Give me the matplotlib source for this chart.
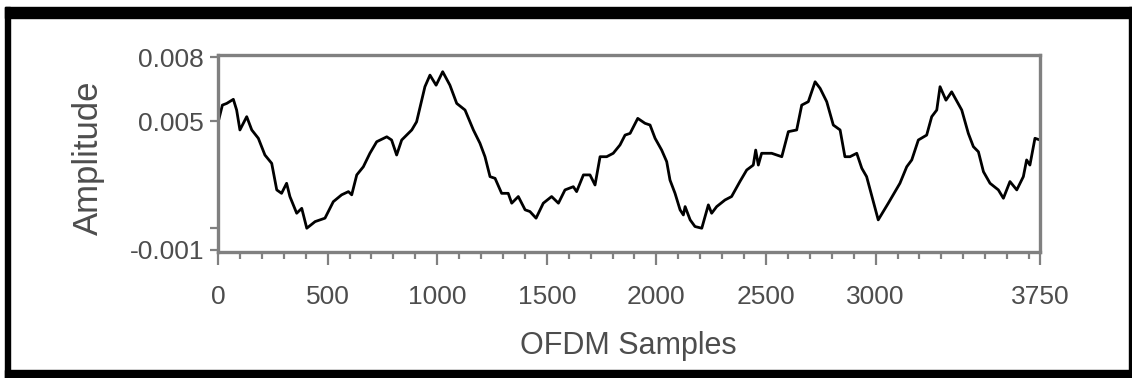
import matplotlib
matplotlib.use("Agg")
import matplotlib.pyplot as plt
from matplotlib.patches import Rectangle
from matplotlib.ticker import MultipleLocator

# values
samples = [5, 20, 40, 70, 85, 100, 131, 154, 184, 214, 245, 268, 290, 313, 328,
           359, 382, 405, 443, 488, 526, 564, 595, 610, 633, 663, 693, 724, 770,
           792, 815, 838, 884, 906, 944, 967, 995, 1025, 1058, 1089, 1127, 1165,
           1195, 1218, 1241, 1264, 1294, 1324, 1340, 1370, 1401, 1423, 1451, 1484,
           1522, 1553, 1583, 1621, 1636, 1667, 1697, 1720, 1743, 1773, 1803, 1834,
           1857, 1880, 1915, 1948, 1971, 1994, 2024, 2047, 2062, 2085, 2108, 2123,
           2131, 2154, 2176, 2207, 2237, 2252, 2275, 2313, 2343, 2381, 2412, 2442,
           2453, 2465, 2480, 2526, 2572, 2602, 2640, 2663, 2693, 2724, 2747, 2777,
           2807, 2838, 2860, 2883, 2914, 2937, 2959, 3012, 3058, 3111, 3142, 3165,
           3195, 3233, 3256, 3279, 3294, 3321, 3347, 3393, 3423, 3446, 3469, 3492,
           3522, 3560, 3583, 3613, 3644, 3674, 3689, 3704, 3727, 3750]
amplitude = [0.00514, 0.00576, 0.00584, 0.00603, 0.00553, 0.00460, 0.00522, 0.00460,
             0.00421, 0.00343, 0.00304, 0.00180, 0.00164, 0.00211, 0.00149, 0.00071,
             0.00094, 0.00001, 0.00032, 0.00048, 0.00125, 0.00157, 0.00172, 0.00157,
             0.00250, 0.00288, 0.00351, 0.00405, 0.00428, 0.00413, 0.00343, 0.00413,
             0.00460, 0.00498, 0.00662, 0.00716, 0.00669, 0.00732, 0.00669, 0.00584,
             0.00553, 0.00460, 0.00398, 0.00335, 0.00242, 0.00234, 0.00164, 0.00164,
             0.00118, 0.00149, 0.00087, 0.00079, 0.00048, 0.00118, 0.00149, 0.00118,
             0.00180, 0.00195, 0.00172, 0.00250, 0.00250, 0.00203, 0.00335, 0.00335,
             0.00351, 0.00390, 0.00436, 0.00444, 0.00514, 0.00491, 0.00483, 0.00421,
             0.00366, 0.00312, 0.00226, 0.00164, 0.00087, 0.00063, 0.00102, 0.00040,
             0.00009, 0.00001, 0.00110, 0.00071, 0.00102, 0.00133, 0.00149, 0.00219,
             0.00273, 0.00296, 0.00366, 0.00296, 0.00351, 0.00351, 0.00335, 0.00452,
             0.00460, 0.00576, 0.00592, 0.00685, 0.00654, 0.00592, 0.00483, 0.00460,
             0.00335, 0.00335, 0.00351, 0.00281, 0.00242, 0.00040, 0.00118, 0.00211,
             0.00288, 0.00320, 0.00413, 0.00436, 0.00522, 0.00553, 0.00662, 0.00599,
             0.00638, 0.00553, 0.00444, 0.00382, 0.00358, 0.00265, 0.00211, 0.00180,
             0.00141, 0.00219, 0.00180, 0.00242, 0.00320, 0.00296, 0.00421, 0.00413]

x_ticks = [0, 500, 1000, 1500, 2000, 2500, 3000, 3750]
y_ticks = [-0.001, 0.005, 0.008]
y_tick_labels = ["-0.001", "0.005", "0.008"]

W, H = 1132, 378
plt.rcParams['font.family'] = ['Liberation Sans', 'DejaVu Sans']
fig = plt.figure(figsize=(W / 100, H / 100), dpi=100)

# black picture border
def px_rect(x0, y0, x1, y1):
    fig.patches.append(Rectangle((x0 / W, 1 - y1 / H), (x1 - x0) / W, (y1 - y0) / H,
                                 transform=fig.transFigure, color="black", zorder=0))

px_rect(5, 7, 1132, 18)
px_rect(5, 7, 10, 378)
px_rect(1129, 7, 1132, 378)
px_rect(5, 370, 1132, 378)

ax = fig.add_axes([218 / W, 1 - 252 / H, (1040 - 218) / W, (252 - 55) / H])
ax.plot(samples, amplitude, color="black", lw=2.0)

ax.set_xlim(0, 3750)
ax.set_ylim(-0.0011, 0.0081)

grey = "#808080"
text_col = "#4d4d4d"
for s in ax.spines.values():
    s.set_color(grey)
    s.set_linewidth(2.4)

ax.set_xticks(x_ticks)
ax.set_xticklabels([str(t) for t in x_ticks])
ax.xaxis.set_minor_locator(MultipleLocator(100))
ax.set_yticks(y_ticks)
ax.set_yticklabels(y_tick_labels)
ax.set_yticks([0.0], minor=True)

ax.tick_params(axis="x", which="major", length=9, width=1.6, color=grey,
               labelsize=19, labelcolor=text_col, pad=15)
ax.tick_params(axis="x", which="minor", length=5, width=1.6, color=grey)
ax.tick_params(axis="y", which="both", length=6, width=1.6, color=grey,
               labelsize=19, labelcolor=text_col, pad=4)

ax.set_xlabel("OFDM Samples", fontsize=22, color=text_col)
ax.xaxis.set_label_coords(0.499, -0.40)
ax.set_ylabel("Amplitude", fontsize=25, color=text_col)
ax.yaxis.set_label_coords(-0.137, 0.48)

fig.savefig("out.png", dpi=100, facecolor="white")
